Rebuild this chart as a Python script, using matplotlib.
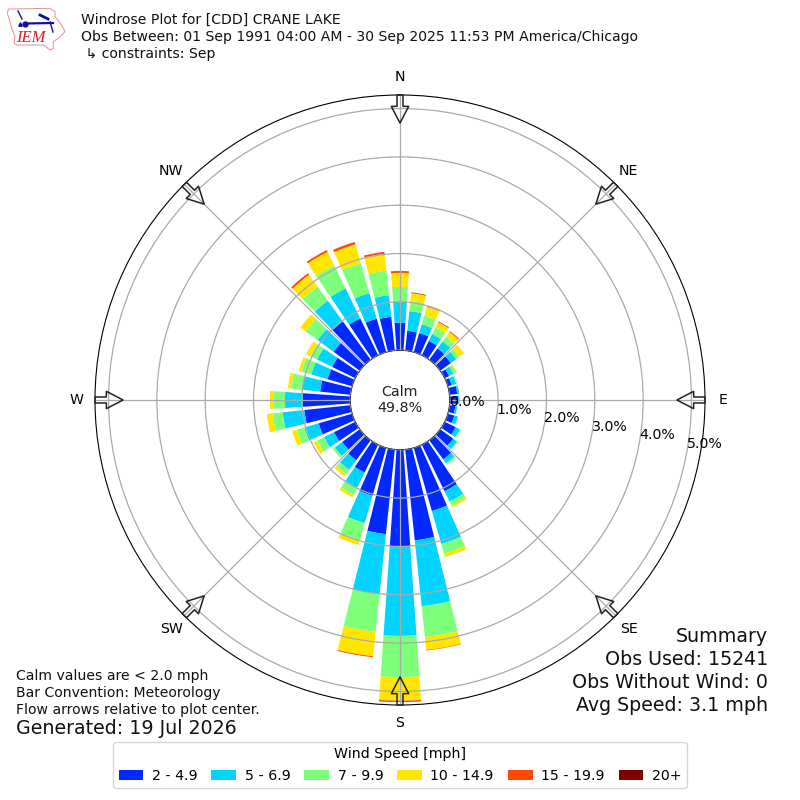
import numpy as np
import matplotlib
matplotlib.use("Agg")
import matplotlib.pyplot as plt
from matplotlib.patches import Polygon

directions = list(range(0, 360, 10))
# percent of observations per direction (bearing the wind is from)
speed_2_5 = [.57,.41,.41,.33,.29,.27,.10,.08,.16,.18,.12,.14,.25,.33,.49,1.07,1.36,1.89,
             2.01,1.76,1.03,.64,.51,.45,.49,.72,.96,.98,.63,.53,.53,.67,.98,.85,.72,.70]
speed_5_7 = [.43,.41,.19,.16,.18,.14,.10,.10,.04,.02,.04,.08,.10,.10,.10,.24,.71,1.37,
             1.84,1.25,.59,.35,.25,.19,.23,.31,.45,.37,.38,.35,.35,.41,.53,.69,.55,.45]
speed_7_10 = [.31,.21,.19,.15,.12,.08,.06,.02,0,0,0,0,.02,.02,.04,.09,.21,.64,
              .85,.78,.37,.16,.10,.05,.16,.16,.21,.23,.22,.21,.15,.30,.36,.53,.64,.51]
speed_10_15 = [.29,.16,.19,.12,.12,.12,.02,0,0,0,0,0,0,0,0,.04,.07,.27,
               .49,.51,.10,.06,.06,0,.08,.10,.12,.08,.07,.06,.10,.14,.30,.31,.41,.35]
speed_15_20 = [.04,.02,.02,.02,.02,0,0,0,0,0,0,0,0,0,0,0,0,.01,
               .03,.02,0,0,0,0,0,0,0,0,0,0,0,0,.04,.04,.05,.04]
speed_20 = [0] * 36
series = [speed_2_5, speed_5_7, speed_7_10, speed_10_15, speed_15_20, speed_20]
bin_labels = ["2 - 4.9", "5 - 6.9", "7 - 9.9", "10 - 14.9", "15 - 19.9", "20+"]
bin_colors = ["#0028ff", "#00d4ff", "#7dff7a", "#ffe500", "#ff4800", "#800000"]
rticks = [0, 1, 2, 3, 4, 5]
compass = ["N", "NE", "E", "SE", "S", "SW", "W", "NW"]

fig = plt.figure(figsize=(8, 8), dpi=100)
ax = fig.add_axes([95/800, 95/800, 610/800, 610/800], projection="polar")
ax.set_theta_zero_location("N")
ax.set_theta_direction(-1)

theta = np.deg2rad(directions)
width = np.deg2rad(8)
bottom = np.zeros(36)
handles = []
for vals, col, lab in zip(series, bin_colors, bin_labels):
    vals = np.array(vals, float)
    h = ax.bar(theta, vals, width=width, bottom=bottom, color=col, label=lab,
               linewidth=0, zorder=2)
    handles.append(h)
    bottom = bottom + vals

ax.set_rorigin(-1.03)
ax.set_ylim(0, 5.28)
ax.set_rgrids(rticks, [f"{t:.1f}%" for t in rticks], angle=100, fontsize=10.15, zorder=5)
ax.set_thetagrids(np.arange(0, 360, 45), compass, fontsize=10.15)
ax.tick_params(axis="x", pad=2.7)
ax.set_axisbelow(False)
ax.grid(True, color="#aaaaaa", linewidth=0.9, zorder=3)

for t in np.deg2rad(np.arange(0, 360, 45)):
    ax.annotate("", xy=(t, 4.70), xytext=(t, 5.28), xycoords="data", textcoords="data",
                annotation_clip=False, zorder=6,
                arrowprops=dict(facecolor="none", edgecolor="#222222", linewidth=1.1,
                                width=4.3, headwidth=12.5, headlength=12, shrink=0))

ax.text(0, -1.03, "Calm\n49.8%", ha="center", va="center", fontsize=10.3, zorder=7,
        linespacing=1.15, color="#222222")

# pixel-coordinate overlay for page furniture
ov = fig.add_axes([0, 0, 1, 1], facecolor="none")
ov.set_xlim(0, 800); ov.set_ylim(800, 0); ov.axis("off"); ov.set_zorder(10)

state = [(25,27),(150,25),(165,35),(165,50),(185,75),(195,95),(175,115),(160,125),(160,145),
         (150,150),(130,135),(50,135),(42,130),(45,110),(35,85),(30,65),(22,40)]
ov.add_patch(Polygon([(x/3, y/3) for x, y in state], closed=True, fc="white", ec="#e89090", lw=0.7))
ov.plot([25, 53], [23.5, 23], color="#1010a0", lw=1.6)
ov.plot([25], [23.5], "o", color="#1010a0", ms=3.5)
ov.plot([18, 22], [11, 19], color="#1010a0", lw=1.0)
ov.plot([40, 48], [15, 19], color="#1010a0", lw=2.0)
ov.plot([50, 53], [22, 32], color="#1010a0", lw=1.0)
ov.plot([20], [24], "^", color="#1010a0", ms=2.5)
ov.text(30.5, 38.5, "IEM", family="Liberation Serif", style="italic", color="#d62020",
        fontsize=12, ha="center", va="center")

title = ["Windrose Plot for [CDD] CRANE LAKE",
         "Obs Between: 01 Sep 1991 04:00 AM - 30 Sep 2025 11:53 PM America/Chicago",
         " \u21b3 constraints: Sep"]
for y, s in zip([20, 37, 54], title):
    ov.text(81, y, s, fontsize=10.1, ha="left", va="center", color="#111111")

notes = ["Calm values are < 2.0 mph", "Bar Convention: Meteorology", "Flow arrows relative to plot center."]
for y, s in zip([676, 693, 710], notes):
    ov.text(16, y, s, fontsize=10.1, ha="left", va="center", color="#111111")
ov.text(16, 729, "Generated: 19 Jul 2026", fontsize=13.7, ha="left", va="center", color="#111111")

summary = ["Summary", "Obs Used: 15241", "Obs Without Wind: 0", "Avg Speed: 3.1 mph"]
for y, s in zip([636.5, 659.5, 682.5, 705.5], summary):
    ov.text(768, y, s, fontsize=13.7, ha="right", va="center", color="#111111")

fig.legend(handles=handles, labels=bin_labels, title="Wind Speed [mph]", ncol=6, fontsize=10.15,
           title_fontsize=10.15, loc="center", bbox_to_anchor=(0.5, 1 - 765/800),
           columnspacing=1.0, handletextpad=0.6, handlelength=1.75)

fig.savefig("out.png", dpi=100)
